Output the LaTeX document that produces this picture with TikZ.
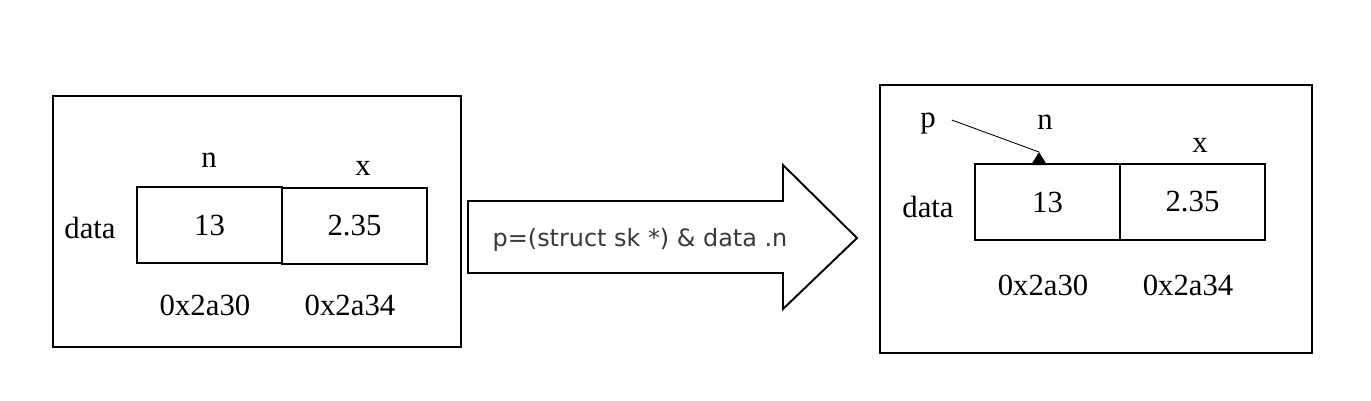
\documentclass[tikz,border=0pt]{standalone}
\usepackage{fontspec}
\setmainfont{Liberation Serif}
\newfontfamily\castfont{DejaVu Sans}
\usetikzlibrary{positioning,calc}

\begin{document}
\begin{tikzpicture}[
    x=0.02cm, y=-0.02cm,
    frame/.style={draw, line width=1.1pt},
    cell/.style={rectangle, draw, line width=1.1pt, minimum width=2.9cm, minimum height=1.52cm, inner sep=0pt, font=\fontsize{17.5}{20}\selectfont},
    lbl/.style={font=\fontsize{17.5}{20}\selectfont, inner sep=1pt}
]
\useasboundingbox (0,0) rectangle (1371,400);

% Before
\draw[frame] (53,96) rectangle (461,347);
\node[cell] (cellN) at (209.5,225) {13};
\node[cell] (cellX) at (354.5,226) {2.35};
\node[lbl] (nameN) at (209,160) {n};
\node[lbl] (nameX) at (363,168) {x};
\node[lbl] (dataL) at (90,228) {data};
\node[lbl] (addrN) at (205,305) {0x2a30};
\node[lbl] (addrX) at (350,305) {0x2a34};

% Cast
\draw[line width=1.1pt] (468,201) -- (783,201) -- (783,165) -- (857,238) -- (783,309) -- (783,273) -- (468,273) -- cycle;
\node[font=\castfont\fontsize{13.6}{16}\selectfont, text=black!78] (cast) at (640,240) {p=(struct sk *) \& data .n};

% After
\draw[frame] (880,85) rectangle (1312,353);
\node[cell] (cellN2) at (1047.5,202) {13};
\node[cell] (cellX2) at (1192.5,202) {2.35};
\node[lbl] (nameN2) at (1045,122) {n};
\node[lbl] (nameX2) at (1200,145) {x};
\node[lbl] (dataR) at (928,207) {data};
\node[lbl] (addrN2) at (1043,285) {0x2a30};
\node[lbl] (addrX2) at (1188,285) {0x2a34};
\node[lbl] (ptrP) at (928,124) {p};

% pointer p
\coordinate (tip) at (1039,152);
\draw[line width=0.5pt] ([xshift=0.28cm,yshift=0.08cm]ptrP.east) -- (tip);
\fill (tip) -- (1031,165) -- (1047,165) -- cycle;

\end{tikzpicture}
\end{document}
